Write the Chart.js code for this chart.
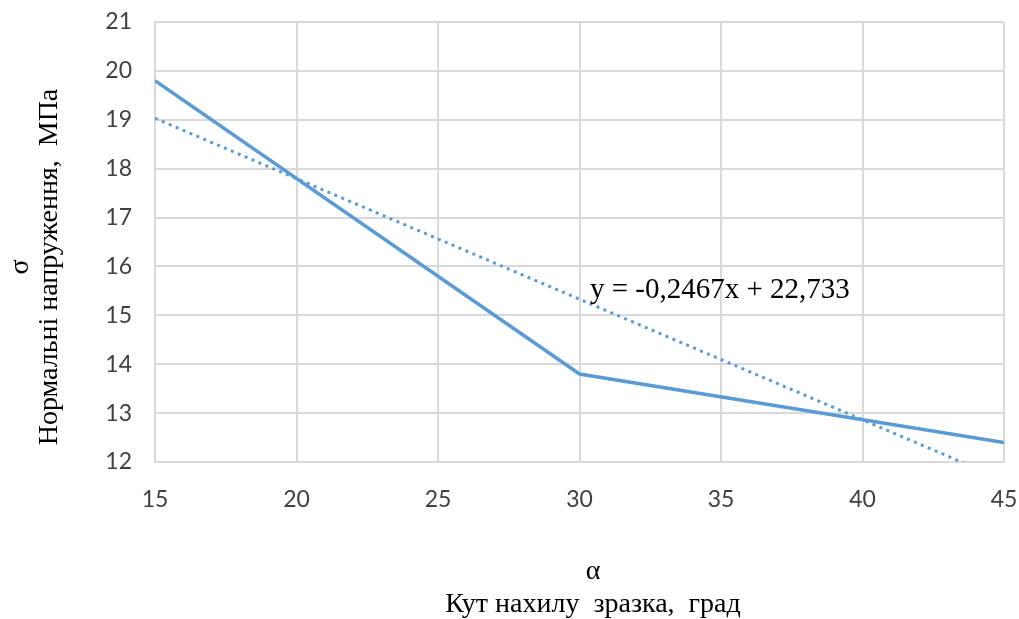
<!DOCTYPE html>
<html>
<head>
<meta charset="utf-8">
<script src="https://cdn.jsdelivr.net/npm/chart.js@4"></script>
<style>
  html, body { margin: 0; padding: 0; background: #ffffff; }
  #chart { display: block; }
</style>
</head>
<body>
<canvas id="chart" width="1019" height="619"></canvas>
<script>
// measured values
const angles = [15, 30, 45];
const stresses = [19.8, 13.8, 12.4];

// linear trendline as drawn in the picture (y = -0,2467x + 22,733)
const trendAngles = [15, 45];
const trendStresses = [19.03, 11.63];
const trendLabel = 'y = -0,2467x + 22,733';

const xTicks = [15, 20, 25, 30, 35, 40, 45];
const yTicks = [12, 13, 14, 15, 16, 17, 18, 19, 20, 21];

const xTitle = ['α', 'Кут нахилу  зразка,  град'];
const yTitle = ['σ', 'Нормальні напруження,  МПа'];

const lineColor = '#5b9bd5';
const gridColor = '#d9d9d9';
const serif = '"Liberation Serif", "DejaVu Serif", serif';
const tickFont = { family: 'Lato, "Liberation Sans", sans-serif', size: 23 };

function toPoints(xs, ys) {
    return xs.map((x, i) => ({ x: x, y: ys[i] }));
}

// keep the plot area where the padding puts it
function noScalePadding(scale) {
    scale.paddingLeft = 0;
    scale.paddingRight = 0;
    scale.paddingTop = 0;
    scale.paddingBottom = 0;
}

const titlesPlugin = {
    id: 'titles',
    afterDraw(chart) {
        const ctx = chart.ctx;
        ctx.save();
        ctx.fillStyle = '#000000';
        ctx.font = '28px ' + serif;
        ctx.textAlign = 'center';
        ctx.textBaseline = 'middle';

        // x axis title, two lines
        const cx = 593;
        ctx.fillText(xTitle[0], cx, 572);
        ctx.fillText(xTitle[1], cx, 605);

        // y axis title, rotated
        const cy = 267;
        ctx.save();
        ctx.translate(21, cy);
        ctx.rotate(-Math.PI / 2);
        ctx.fillText(yTitle[0], 0, 0);
        ctx.restore();
        ctx.save();
        ctx.translate(50, cy);
        ctx.rotate(-Math.PI / 2);
        ctx.fillText(yTitle[1], 0, 0);
        ctx.restore();

        // trendline equation
        ctx.font = '29px ' + serif;
        ctx.textAlign = 'left';
        ctx.textBaseline = 'alphabetic';
        ctx.fillText(trendLabel, 590, 298);
        ctx.restore();
    }
};

const ctx = document.getElementById('chart').getContext('2d');
const chart = new Chart(ctx, {
    type: 'scatter',
    data: {
        datasets: [{
            label: 'σ',
            data: toPoints(angles, stresses),
            showLine: true,
            borderColor: lineColor,
            borderWidth: 3.5,
            pointRadius: 0,
            pointHoverRadius: 0,
            tension: 0
        }, {
            label: 'trend',
            data: toPoints(trendAngles, trendStresses),
            showLine: true,
            borderColor: lineColor,
            borderWidth: 3,
            borderDash: [3, 4.5],
            pointRadius: 0,
            pointHoverRadius: 0,
            tension: 0
        }]
    },
    options: {
        responsive: false,
        animation: false,
        events: [],
        layout: {
            padding: { left: 0, top: 22, right: 15, bottom: 0 }
        },
        plugins: {
            legend: { display: false },
            tooltip: { enabled: false }
        },
        scales: {
            x: {
                type: 'linear',
                min: 15,
                max: 45,
                afterBuildTicks: (scale) => {
                    scale.ticks = xTicks.map(v => ({ value: v }));
                },
                afterFit: (scale) => {
                    scale.height = 157;
                    noScalePadding(scale);
                },
                grid: {
                    color: gridColor,
                    lineWidth: 2,
                    drawTicks: false
                },
                border: { color: gridColor, width: 2 },
                ticks: {
                    padding: 24,
                    color: '#404040',
                    font: tickFont
                }
            },
            y: {
                type: 'linear',
                min: 12,
                max: 21,
                afterBuildTicks: (scale) => {
                    scale.ticks = yTicks.map(v => ({ value: v }));
                },
                afterFit: (scale) => {
                    scale.width = 155;
                    noScalePadding(scale);
                },
                grid: {
                    color: gridColor,
                    lineWidth: 2,
                    drawTicks: false
                },
                border: { color: gridColor, width: 2 },
                ticks: {
                    padding: 23,
                    color: '#404040',
                    font: tickFont
                }
            }
        }
    },
    plugins: [titlesPlugin]
});
</script>
</body>
</html>
